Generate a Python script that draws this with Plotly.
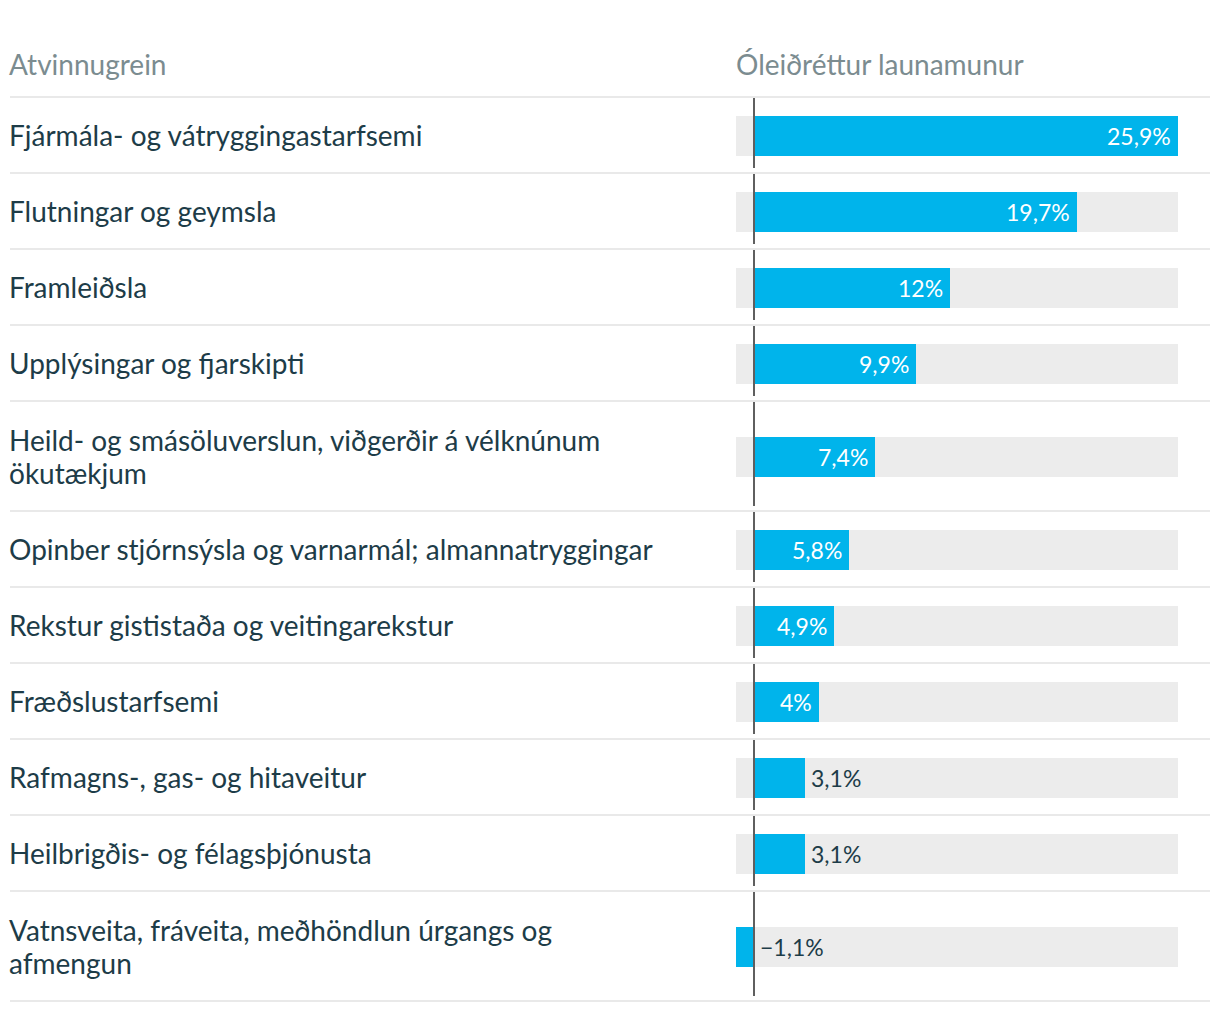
import plotly.graph_objects as go

categories = [
    "Fjármála- og vátryggingastarfsemi",
    "Flutningar og geymsla",
    "Framleiðsla",
    "Upplýsingar og fjarskipti",
    "Heild- og smásöluverslun, viðgerðir á vélknúnum<br>ökutækjum",
    "Opinber stjórnsýsla og varnarmál; almannatryggingar",
    "Rekstur gististaða og veitingarekstur",
    "Fræðslustarfsemi",
    "Rafmagns-, gas- og hitaveitur",
    "Heilbrigðis- og félagsþjónusta",
    "Vatnsveita, fráveita, meðhöndlun úrgangs og<br>afmengun",
]
values = [25.9, 19.7, 12.0, 9.9, 7.4, 5.8, 4.9, 4.0, 3.1, 3.1, -1.1]
header_left = "Atvinnugrein"
header_right = "Óleiðréttur launamunur"

OFF = 8  # page body margin
W, H = 1220 - OFF, 1012 - OFF
TOP = 97 - OFF
ROW_H = 76
ROW_H_WRAP = 110
BAR_H = 40
LINE_SP = 33
X0_PX, X1_PX = 736 - OFF, 1178 - OFF
LEFT_PX = 10 - OFF
RIGHT_PX = 1210 - OFF

BLUE = "#00b4eb"
BG = "#ececec"
TXT = "#1d3c48"
HDR = "#7b8c90"
SEP = "#e9e9e9"
ZERO = "#5f5f5f"
FONT = "Lato"

# Row layout
tops, centers, bottoms = [], [], []
y = TOP
for c in categories:
    h = ROW_H_WRAP if "<br>" in c else ROW_H
    tops.append(y)
    centers.append(y + h / 2 + 1)
    y += h
    bottoms.append(y)

vmin, vmax = min(values + [0]), max(values)

def fmt(v):
    s = f"{abs(v):.1f}".rstrip("0").rstrip(".").replace(".", ",")
    return ("\u2212" if v < 0 else "") + s + "%"

fig = go.Figure()
fig.add_trace(go.Bar(
    y=centers, x=[vmax - vmin] * len(values), base=[vmin] * len(values),
    orientation="h", width=BAR_H, marker=dict(color=BG, line=dict(width=0)),
    hoverinfo="skip", showlegend=False,
))
fig.add_trace(go.Bar(
    y=centers, x=values, orientation="h", width=BAR_H,
    marker=dict(color=BLUE, line=dict(width=0)),
    hoverinfo="skip", showlegend=False,
))

px_per_unit = (X1_PX - X0_PX) / (vmax - vmin)
annotations = []
for cat, cy in zip(categories, centers):
    lines = cat.split("<br>")
    n = len(lines)
    for i, ln in enumerate(lines):
        ly = cy - 1 + (i - (n - 1) / 2) * LINE_SP
        annotations.append(dict(
            x=LEFT_PX / W, xref="paper", y=ly, yref="y", text=ln, showarrow=False,
            xanchor="left", yanchor="middle", align="left", xshift=-3,
            font=dict(family=FONT, size=28, color=TXT),
        ))
for v, cy in zip(values, centers):
    label = fmt(v)
    text_w = len(label) * 12.5 + 10
    bar_w = abs(v) * px_per_unit
    if v > 0 and bar_w > text_w:
        annotations.append(dict(x=v, y=cy, xref="x", yref="y", text=label,
                                showarrow=False, xanchor="right", yanchor="middle",
                                xshift=-5, font=dict(family=FONT, size=23, color="white")))
    else:
        annotations.append(dict(x=max(v, 0), y=cy, xref="x", yref="y", text=label,
                                showarrow=False, xanchor="left", yanchor="middle",
                                xshift=4, font=dict(family=FONT, size=23, color=TXT)))

annotations.append(dict(x=LEFT_PX / W, xref="paper", y=64 - OFF, yref="y", text=header_left,
                        showarrow=False, xanchor="left", yanchor="middle", xshift=-3,
                        font=dict(family=FONT, size=28, color=HDR)))
annotations.append(dict(x=X0_PX / W, xref="paper", y=64 - OFF, yref="y", text=header_right,
                        showarrow=False, xanchor="left", yanchor="middle", xshift=-2,
                        font=dict(family=FONT, size=28, color=HDR)))

shapes = []
for t, b in zip(tops, bottoms):
    shapes.append(dict(type="line", xref="x", yref="y", x0=0, x1=0, y0=t + 1, y1=b - 5,
                       line=dict(color=ZERO, width=2), layer="above"))
for yy in [TOP] + bottoms:
    shapes.append(dict(type="line", xref="paper", yref="y", x0=LEFT_PX / W, x1=RIGHT_PX / W,
                       y0=yy, y1=yy, line=dict(color=SEP, width=2), layer="above"))

fig.update_layout(
    width=W, height=H, margin=dict(l=0, r=0, t=0, b=0),
    paper_bgcolor="white", plot_bgcolor="white",
    barmode="overlay", bargap=0,
    xaxis=dict(range=[vmin, vmax], domain=[X0_PX / W, X1_PX / W], visible=False,
               fixedrange=True),
    yaxis=dict(range=[H, 0], domain=[0, 1], visible=False, fixedrange=True),
    annotations=annotations, shapes=shapes,
    font=dict(family=FONT),
)

fig.write_html("out.html", config={"displayModeBar": False})
